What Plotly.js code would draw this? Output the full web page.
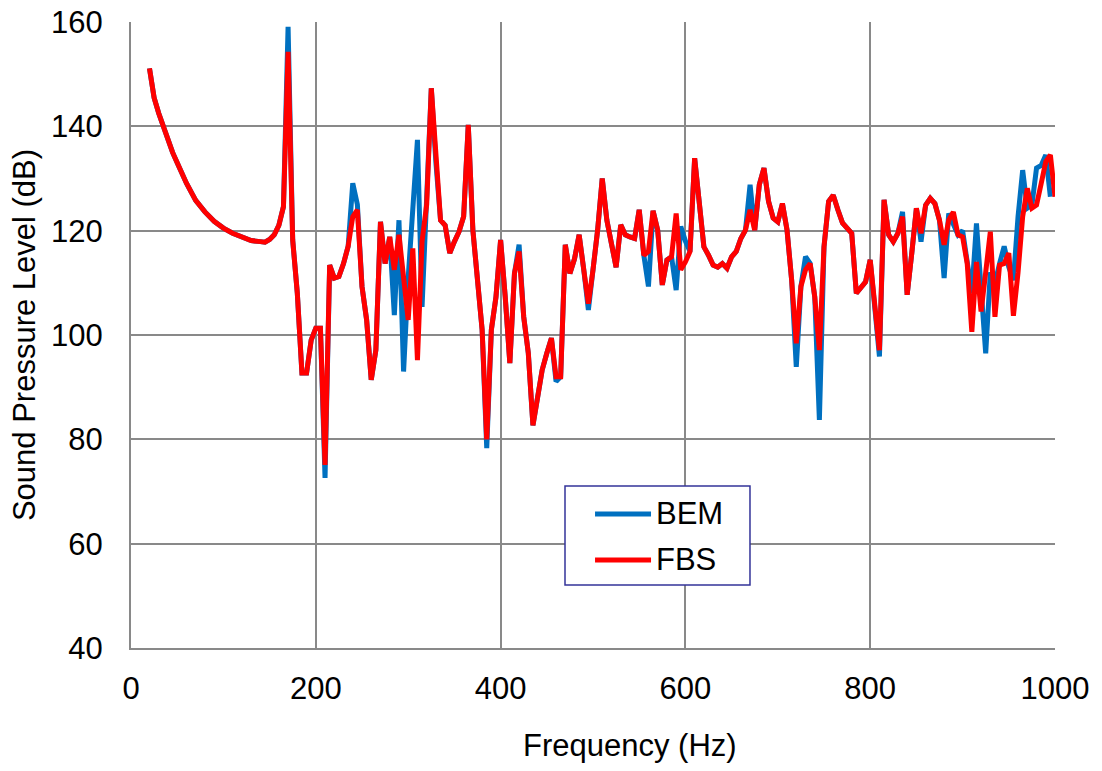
<!DOCTYPE html>
<html>
<head>
<meta charset="utf-8">
<script src="https://cdn.plot.ly/plotly-3.0.1.min.js"></script>
<style>html,body{margin:0;padding:0;background:#fff;}#chart{width:1102px;height:771px;}</style>
</head>
<body>
<div id="chart"></div>
<script>
const freq = [20,25,30,35,40,45,50,60,70,80,90,100,110,120,130,140,145,150,155,160,165,170,175,180,185,190,195,200,205,210,215,220,225,230,235,240,245,250,255,260,265,270,275,280,285,290,295,300,305,310,315,320,325,330,335,340,345,350,355,360,365,370,375,380,385,390,395,400,405,410,415,420,425,430,435,440,445,450,455,460,465,470,475,480,485,490,495,500,505,510,515,520,525,530,535,540,545,550,555,560,565,570,575,580,585,590,595,600,605,610,615,620,625,630,635,640,645,650,655,660,665,670,675,680,685,690,695,700,705,710,715,720,725,730,735,740,745,750,755,760,765,770,775,780,785,790,795,800,805,810,815,820,825,830,835,840,845,850,855,860,865,870,875,880,885,890,895,900,905,910,915,920,925,930,935,940,945,950,955,960,965,970,975,980,985,990,995,1000];
const bem = [151.1,145.5,142.5,139.9,137.2,135,133,129.1,125.8,123.6,121.8,120.5,119.5,118.7,118.1,117.9,117.8,118.3,119.2,121,124.6,159.1,118.2,108,92.7,92.7,99,101.3,101.3,72.6,113.4,110.9,111.2,113.7,117,129.1,125,109.3,102.9,91.4,97.1,121.7,113.7,118.8,103.8,122,93,111,124.8,137.4,105.4,125,147.3,133,122,121,115.7,117.9,119.8,122.7,140.3,120.1,110,101,78.3,101,107.3,118.2,107.3,94.6,111.8,117.3,103.5,96.5,82.7,88.2,93.3,96.5,99.4,91.1,92,117.3,111.8,114.6,119.2,112.5,104.8,112.5,120.1,130,122,117.5,113,121.1,119.2,118.8,118.5,124,115.3,109.3,123.8,120.1,109.6,114.4,115,108.6,120.8,118,116,133.9,125.2,116.9,115.3,113.4,113,113.7,112.8,115,116,118.5,120.1,128.8,120.1,128.8,132,125.6,122.4,121.7,125.2,120.1,110.5,93.9,109.3,115,113.7,107.3,83.7,116.9,125.6,126.8,124,121.5,120.5,119.5,108,109.3,110.2,114.4,106.1,95.9,125.9,119.2,117.9,119.5,123.6,107.7,115.7,124.3,117.9,124.9,126.2,125.2,122,110.9,123.3,121,119.2,120,113.7,108,121.4,108,96.5,112,109.9,113.7,117,113,110.5,122.7,131.6,124.3,124.9,132,132.5,134.5,126.5];
const fbs = [151.1,145.5,142.5,139.9,137.2,135,133,129.1,125.8,123.6,121.8,120.5,119.5,118.7,118.1,117.9,117.8,118.3,119.2,121,124.6,154.3,118.2,108,92.7,92.7,99,101.3,101.3,75.1,113.4,110.9,111.2,113.7,117,122.7,124,109.3,102.9,91.4,97.1,121.7,113.7,118.8,112.5,119.2,110.5,102.9,116.6,95.2,118,125,147.3,133,122,121,115.7,117.9,119.8,122.7,140.3,120.1,110,101,80,101,107.3,118.2,107.3,94.6,111.8,116,103.5,96.5,82.7,88.2,93.3,96.5,99.4,92,92,117.3,111.8,114.6,119.2,112.5,106,112.5,120.1,130,122,117.5,113,121.1,119.2,118.8,118.5,124,115.3,116,123.8,120.1,109.6,114.4,115,123.3,112.5,114,116,133.9,125.2,116.9,115.3,113.4,113,113.7,112.8,115,116,118.5,120.1,124,120.1,128.8,132,125.6,122.4,121.7,125.2,120.1,110.5,98.4,109.3,112.5,113.7,107.3,97.1,116.9,125.6,126.8,124,121.5,120.5,119.5,108,109.3,110.2,114.4,106.1,97.1,125.9,119.2,117.9,119.5,122.7,107.7,115.7,124.3,119.5,124.9,126.2,125.2,122,117.3,122,123.6,119.2,118.8,113.7,100.6,114,104.5,112,119.8,103.5,113.4,113.7,115.7,103.7,112,122.7,128.1,124.3,124.9,129,133.2,134.5,126.5];
const xTicks = [0,200,400,600,800,1000];
const yTicks = [40,60,80,100,120,140,160];
const seriesNames = ['BEM', 'FBS'];
const seriesColors = ['#0070C0', '#FF0000'];
const xTitle = 'Frequency (Hz)';
const yTitle = 'Sound Pressure Level (dB)';

const font = 'Liberation Sans, Arial, sans-serif';
const FS = 31;
const traces = [
  {x: freq, y: bem, name: seriesNames[0], type: 'scatter', mode: 'lines', line: {color: seriesColors[0], width: 5}},
  {x: freq, y: fbs, name: seriesNames[1], type: 'scatter', mode: 'lines', line: {color: seriesColors[1], width: 5}}
];

// legend box drawn in paper coordinates
const lgX0 = 0.4697, lgX1 = 0.6699, lgY0 = 0.1006, lgY1 = 0.2588;
const rowY = [0.2141, 0.1406];
const shapes = [
  {type: 'rect', xref: 'paper', yref: 'paper', x0: lgX0, x1: lgX1, y0: lgY0, y1: lgY1,
   fillcolor: '#fff', line: {color: '#333399', width: 1.5}, layer: 'above'}
];
const annotations = [];
seriesNames.forEach((n, i) => {
  shapes.push({type: 'line', xref: 'paper', yref: 'paper', x0: 0.5022, x1: 0.5628, y0: rowY[i], y1: rowY[i],
    line: {color: seriesColors[i], width: 5}, layer: 'above'});
  annotations.push({xref: 'paper', yref: 'paper', x: 0.5660, y: rowY[i], xanchor: 'left', yanchor: 'middle',
    text: n, showarrow: false, font: {family: font, size: FS, color: '#000'}});
});
// x axis title (offset to the right of centre as in the reference)
annotations.push({xref: 'paper', yref: 'paper', x: 0.540, y: -0.1246, xanchor: 'center', yanchor: 'top',
  text: xTitle, showarrow: false, font: {family: font, size: FS, color: '#000'}});

const layout = {
  width: 1102, height: 771,
  margin: {l: 131, r: 47, t: 22, b: 123},
  paper_bgcolor: '#fff', plot_bgcolor: '#fff',
  font: {family: font, size: FS, color: '#000'},
  showlegend: false,
  shapes: shapes,
  annotations: annotations,
  xaxis: {range: [0, 1000], tickvals: xTicks, ticktext: xTicks.map(String), showgrid: true,
    gridcolor: '#898989', gridwidth: 2, showline: true, linecolor: '#898989', linewidth: 2,
    zeroline: false, ticks: '', ticklabelstandoff: 12, automargin: false,
    tickfont: {size: FS, family: font, color: '#000'}},
  yaxis: {range: [40, 160], tickvals: yTicks, ticktext: yTicks.map(String), showgrid: true,
    gridcolor: '#898989', gridwidth: 2, showline: true, linecolor: '#898989', linewidth: 2,
    zeroline: false, ticks: '', ticklabelstandoff: 20, automargin: false,
    tickfont: {size: FS, family: font, color: '#000'},
    title: {text: yTitle, font: {size: FS, family: font, color: '#000'}, standoff: 6}}
};
Plotly.newPlot('chart', traces, layout, {displayModeBar: false, staticPlot: true});
</script>
</body>
</html>
